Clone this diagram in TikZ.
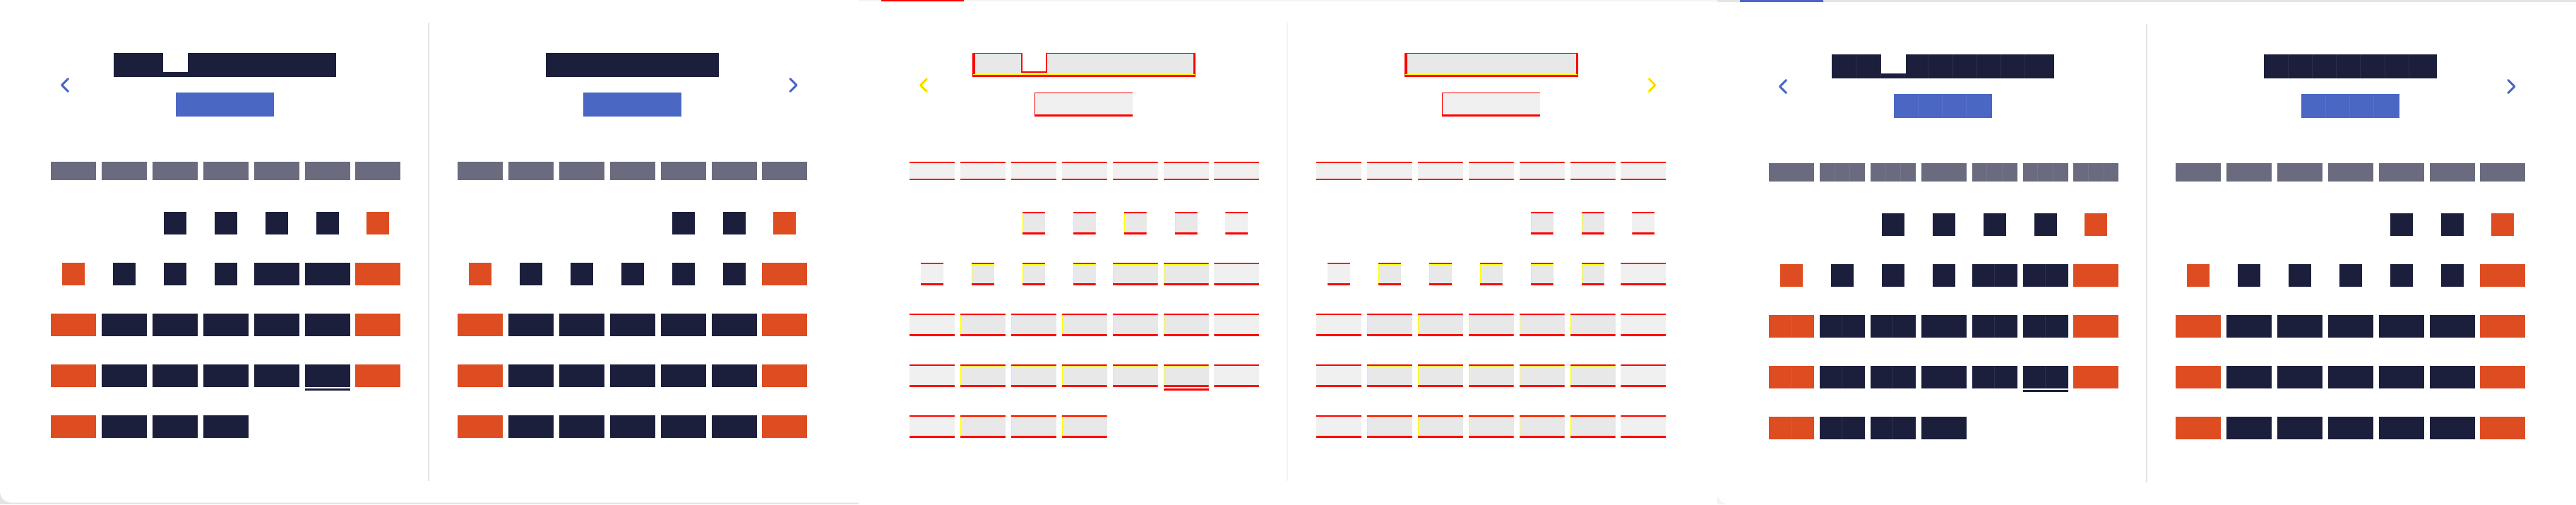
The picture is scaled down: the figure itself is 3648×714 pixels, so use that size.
\documentclass[tikz,border=0pt]{standalone}
\usepackage{tikz}
\usetikzlibrary{positioning}

\definecolor{nachtblau}{HTML}{1C1F3C}
\definecolor{ziegel}{HTML}{DE4C21}
\definecolor{schiefer}{HTML}{6B6B7F}
\definecolor{kornblau}{HTML}{4A67C4}
\definecolor{rahmengrau}{HTML}{E4E4E4}
\definecolor{rahmenhell}{HTML}{F4F4F4}
\definecolor{diffdunkel}{HTML}{E8E8E8}
\definecolor{diffhell}{HTML}{F0F0F0}
\definecolor{diffrot}{HTML}{FF0000}
\definecolor{diffgelb}{HTML}{FFFF00}

\begin{document}
\begin{tikzpicture}[
    x=0.1mm, y=-0.1mm,
    feld/.style={
      rectangle,
      inner sep=0pt,
      outer sep=0pt,
      minimum width=6.4mm,
      minimum height=3.15mm},
    kopf/.style={feld, minimum height=2.6mm, kopffarbe},
    zelle w/.style={feld, dunkel},
    zelle ws/.style={feld, minimum width=3.2mm, dunkel},
    zelle r/.style={feld, rot},
    zelle rs/.style={feld, minimum width=3.2mm, rot},
    titel/.style={feld, minimum height=3.35mm, titelfarbe},
    knopf/.style={feld, minimum width=13.9mm, minimum height=3.35mm, knopffarbe},
    kerbe/.style={feld, minimum width=3.5mm, minimum height=2.7mm, fill=white},
    unterstrich/.style={feld, minimum height=0.25mm, strich},
    teilstrich/.style={draw=white, opacity=.08, line width=0.1mm},
    diffkasten/.style={
      fill=diffdunkel,
      path picture={
        \fill[diffrot] (path picture bounding box.north west) rectangle ([yshift=-0.2mm]path picture bounding box.north east);
        \fill[diffgelb] ([yshift=-0.2mm]path picture bounding box.north west) rectangle ([yshift=-0.3mm]path picture bounding box.north east);
        \fill[diffgelb] ([yshift=-0.2mm]path picture bounding box.north west) rectangle ([xshift=0.1mm]path picture bounding box.south west);
        \fill[diffrot] ([yshift=0.25mm]path picture bounding box.south west) rectangle (path picture bounding box.south east);
      }},
    diffflach/.style={
      fill=diffhell,
      path picture={
        \fill[diffrot] (path picture bounding box.north west) rectangle ([yshift=-0.2mm]path picture bounding box.north east);
        \fill[diffrot] ([yshift=0.25mm]path picture bounding box.south west) rectangle (path picture bounding box.south east);
      }},
    difftitel/.style={
      fill=diffdunkel, draw=diffrot, line width=0.1mm,
      path picture={
        \fill[diffrot] (path picture bounding box.north west) rectangle ([xshift=0.35mm]path picture bounding box.south west);
        \fill[diffrot] ([xshift=-0.2mm]path picture bounding box.north east) rectangle (path picture bounding box.south east);
        \fill[diffgelb] ([yshift=0.25mm]path picture bounding box.south west) rectangle ([yshift=0.35mm]path picture bounding box.south east);
        \fill[diffrot] ([yshift=0.25mm]path picture bounding box.south west) rectangle (path picture bounding box.south east);
      }},
    diffknopf/.style={
      fill=diffhell,
      path picture={
        \fill[diffrot] (path picture bounding box.north west) rectangle ([yshift=-0.1mm]path picture bounding box.north east);
        \fill[diffrot] (path picture bounding box.north west) rectangle ([xshift=0.1mm]path picture bounding box.south west);
        \fill[diffrot] ([yshift=0.25mm]path picture bounding box.south west) rectangle (path picture bounding box.south east);
      }},
    normal/.style={
      dunkel/.style={fill=nachtblau},
      rot/.style={fill=ziegel},
      kopffarbe/.style={fill=schiefer},
      titelfarbe/.style={fill=nachtblau},
      knopffarbe/.style={fill=kornblau},
      strich/.style={fill=nachtblau},
      pfeil/.style={draw=kornblau, line width=0.3mm, line cap=round, line join=round},
      trenner/.style={draw=rahmengrau, line width=0.2mm},
      kerbenrand/.style={draw=none}},
    diff/.style={
      dunkel/.style={diffkasten},
      rot/.style={diffflach},
      kopffarbe/.style={diffflach},
      titelfarbe/.style={difftitel},
      knopffarbe/.style={diffknopf},
      strich/.style={fill=diffrot},
      pfeil/.style={draw=diffgelb, line width=0.35mm, line cap=round, line join=round, postaction={draw=diffrot, line width=0.03mm}},
      trenner/.style={draw=rahmenhell, line width=0.2mm},
      kerbenrand/.style={draw=diffrot, line width=0.12mm}},
    /monatsblatt/.code={
      \node at (318.5,91.75) (titel1) [titel, minimum width=31.5mm] {};
      \node at (248.5,88.5) (kerbe1) [kerbe] {};
      \draw[kerbenrand] (kerbe1.north west) |- (kerbe1.south east) -- (kerbe1.north east);
      \node at (895.5,91.75) (titel2) [titel, minimum width=24.5mm] {};
      \node at (318.5,147.75) (knopf1) [knopf] {};
      \node at (895.5,147.75) (knopf2) [knopf] {};
      \draw[pfeil] (96.5,111.5) -- (87.5,120.5) -- (96.5,129.5);
      \draw[pfeil] (1119,111.5) -- (1128,120.5) -- (1119,129.5);
      \draw[trenner] (606.5,32) -- (606.5,681);
      \foreach \blatt/\xnull in {l/104, r/680}
        \foreach \spalte in {1,...,7}
          \node at (\xnull+\spalte*71.9-71.9,242) (\blatt-kopf\spalte) [kopf] {};
      \foreach \spalte/\typ in {3/ws,4/ws,5/ws,6/ws,7/rs}
        \node at (104+\spalte*71.9-71.9,316) (l-1-\spalte) [zelle \typ] {};
      \foreach \spalte/\typ in {1/rs,2/ws,3/ws,4/ws,5/w,6/w,7/r}
        \node at (104+\spalte*71.9-71.9,388) (l-2-\spalte) [zelle \typ] {};
      \foreach \zeile in {3,4}
        \foreach \spalte/\typ in {1/r,2/w,3/w,4/w,5/w,6/w,7/r}
          \node at (104+\spalte*71.9-71.9,244+\zeile*72) (l-\zeile-\spalte) [zelle \typ] {};
      \foreach \spalte/\typ in {1/r,2/w,3/w,4/w}
        \node at (104+\spalte*71.9-71.9,604) (l-5-\spalte) [zelle \typ] {};
      \node at (463.5,551.5) (markierung) [unterstrich] {};
      \foreach \spalte/\typ in {5/ws,6/ws,7/rs}
        \node at (680+\spalte*71.9-71.9,316) (r-1-\spalte) [zelle \typ] {};
      \foreach \spalte/\typ in {1/rs,2/ws,3/ws,4/ws,5/ws,6/ws,7/r}
        \node at (680+\spalte*71.9-71.9,388) (r-2-\spalte) [zelle \typ] {};
      \foreach \zeile in {3,4,5}
        \foreach \spalte/\typ in {1/r,2/w,3/w,4/w,5/w,6/w,7/r}
          \node at (680+\spalte*71.9-71.9,244+\zeile*72) (r-\zeile-\spalte) [zelle \typ] {};
    }
    ]

  \useasboundingbox (0,0) rectangle (3648,714);
  \fill[rahmengrau] (0,690) rectangle (1216,714);
  \fill[white, rounded corners=1.6mm] (0,-30) rectangle (1250,711.5);
  \fill[white] (1216,-1) rectangle (2432,715);
  \fill[rahmenhell] (1216,0) rectangle (2432,1.5);
  \fill[diffrot] (1248,0) rectangle (1365,2);
  \fill[rahmenhell] (2432,690) rectangle (2460,714);
  \fill[white, rounded corners=1.7mm] (2432,600) rectangle (3700,714);
  \fill[rahmengrau] (2432,0) rectangle (3648,2.5);
  \fill[kornblau] (2464,0) rectangle (2582,2.5);

  \begin{scope}[normal, name prefix=links-]
    \pgfkeys{/monatsblatt}
  \end{scope}

  \begin{scope}[diff, xshift=121.6mm, name prefix=mitte-]
    \pgfkeys{/monatsblatt}
  \end{scope}

  \begin{scope}[normal, xshift=243.3mm, yshift=-0.2mm, name prefix=rechts-]
    \pgfkeys{/monatsblatt}
    \foreach \spalte in {2,3,5,6,7}
      \foreach \teil in {1,2}
        \draw[teilstrich] (72+\spalte*71.9-71.9+\teil*21.33,229) -- ++(0,26);
    \foreach \zeile/\spalte in {2/5,2/6,3/1,3/2,3/3,3/5,3/6,4/1,4/2,4/3,4/5,4/6,5/1,5/2,5/3}
      \draw[teilstrich] (104+\spalte*71.9-71.9,228.25+\zeile*72) -- ++(0,31.5);
    \foreach \k in {1,...,8}
      \draw[teilstrich] (161+\k*34.2,75) -- ++(0,33.5);
    \foreach \k in {1,...,6}
      \draw[teilstrich] (773+\k*34.2,75) -- ++(0,33.5);
    \foreach \k in {1,2,3}
      \draw[teilstrich] (249+\k*34.2,131) -- ++(0,33.5) (826+\k*34.2,131) -- ++(0,33.5);
  \end{scope}

\end{tikzpicture}
\end{document}
